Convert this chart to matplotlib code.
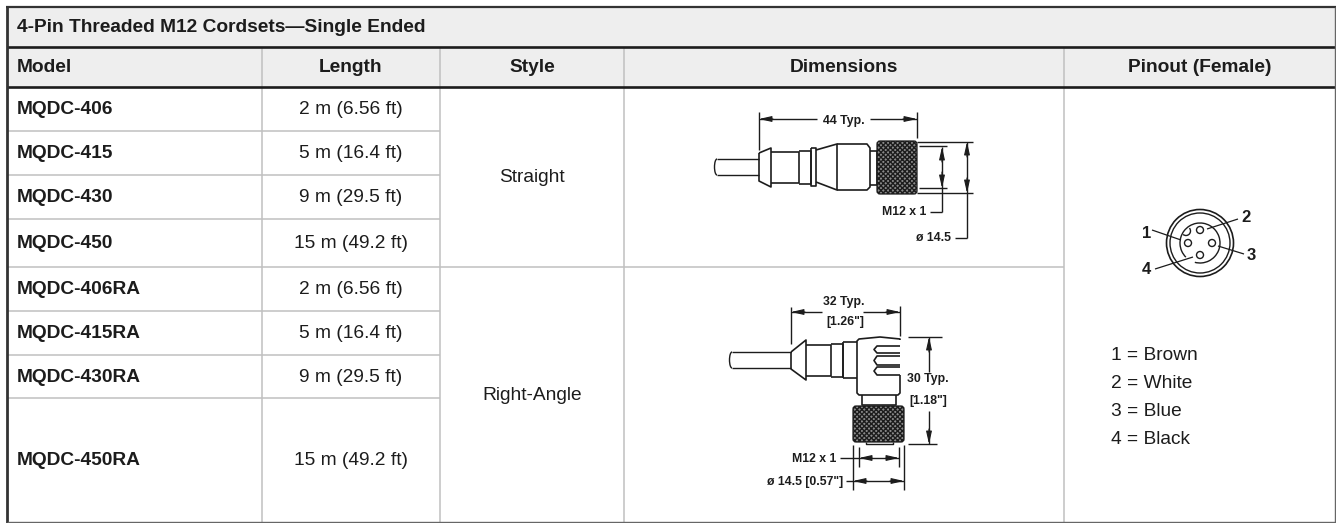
import matplotlib
matplotlib.use("Agg")
import matplotlib.pyplot as plt
from matplotlib.patches import Rectangle, Circle, Arc, FancyBboxPatch

W, H = 1336, 523

title = "4-Pin Threaded M12 Cordsets\u2014Single Ended"
headers = ["Model", "Length", "Style", "Dimensions", "Pinout (Female)"]
models = ["MQDC-406", "MQDC-415", "MQDC-430", "MQDC-450",
          "MQDC-406RA", "MQDC-415RA", "MQDC-430RA", "MQDC-450RA"]
lengths = ["2 m (6.56 ft)", "5 m (16.4 ft)", "9 m (29.5 ft)", "15 m (49.2 ft)",
           "2 m (6.56 ft)", "5 m (16.4 ft)", "9 m (29.5 ft)", "15 m (49.2 ft)"]
styles = ["Straight", "Right-Angle"]
wires = ["1 = Brown", "2 = White", "3 = Blue", "4 = Black"]

col_x = [7, 262, 440, 624, 1064, 1335]
row_y = [87, 131, 175, 219, 267, 311, 355, 398, 522]

INK = "#1c1c1c"
FS = 13.8

plt.rcParams['font.family'] = ['Liberation Sans', 'DejaVu Sans']

fig = plt.figure(figsize=(W / 100, H / 100), dpi=100)
ax = fig.add_axes([0, 0, 1, 1])
ax.set_xlim(0, W)
ax.set_ylim(H, 0)
ax.axis("off")


def line(xs, ys, lw=1.0, c=INK):
    ax.plot(xs, ys, color=c, lw=lw, solid_capstyle="butt", solid_joinstyle="round", zorder=3)


def arrow(x0, y0, x1, y1):
    # small filled dimension arrow pointing at x1, y1
    ax.annotate("", xy=(x1, y1), xytext=(x0, y0),
                arrowprops=dict(arrowstyle="-|>,head_width=0.17,head_length=0.75",
                                color=INK, lw=0.8, shrinkA=0, shrinkB=0), zorder=4)


def narrow(x, y, s, size=8.8):
    # labels of the drawings, small enough to keep the width of the condensed original
    ax.text(x, y, s, fontsize=size, fontweight="bold", ha="center", va="center",
            color=INK, zorder=5)


def knurl(x, y, w, h):
    ax.add_patch(FancyBboxPatch((x + 2, y + 2), w - 4, h - 4, boxstyle="round,pad=2,rounding_size=3",
                                fc="#8a8a8a", ec=INK, lw=0.9, hatch="xxxxxxx", zorder=3))


# header bands
ax.add_patch(Rectangle((7, 7), 1328, 80, fc="#eeeeee", ec="none", zorder=1))

# grid lines
grey = "#c0c0c0"
for y in row_y[1:4] + row_y[5:8]:
    line([col_x[0], col_x[2]], [y, y], 1.1, grey)
line([col_x[0], col_x[4]], [row_y[4], row_y[4]], 1.1, grey)
for x in col_x[1:5]:
    line([x, x], [47, 522], 1.1, grey)
line([7, 1335], [47, 47], 1.9, INK)
line([7, 1335], [87, 87], 1.9, INK)
line([7, 7], [6, 523], 2.0, "#333333")
line([6, 1336], [7, 7], 1.6, "#333333")
line([1335, 1335], [7, 522], 1.0, "#666666")
line([7, 1336], [522, 522], 1.0, "#666666")

# texts
ax.text(17, 27.5, title, fontsize=FS, fontweight="bold", va="center", color=INK)
ax.text(17, 67.5, headers[0], fontsize=FS, fontweight="bold", va="center", color=INK)
for i in range(1, 5):
    ax.text((col_x[i] + col_x[i + 1]) / 2, 67.5, headers[i], fontsize=FS,
            fontweight="bold", ha="center", va="center", color=INK)
for i in range(8):
    yc = (row_y[i] + row_y[i + 1]) / 2 + 0.5
    ax.text(17, yc, models[i], fontsize=FS, fontweight="bold", va="center", color=INK)
    ax.text((col_x[1] + col_x[2]) / 2, yc, lengths[i], fontsize=FS, ha="center",
            va="center", color=INK)
ax.text(532, 178, styles[0], fontsize=FS, ha="center", va="center", color=INK)
ax.text(532, 395, styles[1], fontsize=FS, ha="center", va="center", color=INK)
for s, y in zip(wires, [355, 384, 412, 440]):
    ax.text(1111, y, s, fontsize=FS, va="center", color=INK)

# straight cordset drawing
line([717, 759], [159, 159])
line([717, 759], [175, 175])
ax.add_patch(Arc((717, 167), 5, 16, theta1=90, theta2=270, color=INK, lw=1.0))
line([759, 771, 771, 759, 759], [153, 148, 187, 181, 153], 1.2)
line([771, 799, 799, 771], [152, 152, 183, 183], 1.2)
line([799, 811, 811, 799], [151, 151, 184, 184], 1.2)
line([811, 816, 816, 811, 811], [148, 148, 186, 186, 148], 1.2)
line([816, 837, 837, 816], [150, 144, 190, 182], 1.2)
line([837, 867, 870, 870, 867, 837], [144, 144, 148, 187, 190, 190], 1.2)
line([870, 877, 877, 870], [151, 151, 185, 185], 1.2)
knurl(877, 141, 40, 53)
line([759, 759], [112, 150])
line([917, 917], [112, 138])
line([759, 817], [119, 119])
line([870, 917], [119, 119])
arrow(773, 119, 759, 119)
arrow(903, 119, 917, 119)
narrow(844, 121, "44 Typ.")
line([917, 973], [142, 142])
line([917, 973], [193, 193])
line([919, 947], [146, 146])
line([919, 947], [188, 188])
line([942, 942], [147, 212])
line([967, 967], [142, 238])
arrow(942, 162, 942, 147)
arrow(942, 172, 942, 188)
arrow(967, 157, 967, 142)
arrow(967, 178, 967, 193)
line([930, 942], [212, 212])
line([955, 967], [238, 238])
narrow(904, 212, "M12 x 1")
narrow(933, 238, "\u00f8 14.5")

# right-angle cordset drawing
line([732, 791], [352, 352])
line([732, 791], [368, 368])
ax.add_patch(Arc((732, 360), 5, 16, theta1=90, theta2=270, color=INK, lw=1.0))
line([791, 806, 806, 791, 791], [352, 340, 380, 369, 352], 1.2)
line([806, 831, 831, 806], [345, 345, 376, 376], 1.2)
line([831, 843, 843, 831], [344, 344, 377, 377], 1.2)
line([843, 857], [342, 342], 1.2)
line([843, 857], [378, 378], 1.2)
line([843, 843], [342, 378], 1.2)
line([900, 900, 880, 859, 857, 857, 859, 898, 900, 900],
     [340, 339, 337, 339, 341, 393, 395, 395, 393, 375], 1.2)
for y0, y1 in [(346, 353), (356, 365), (367, 375)]:
    line([900, 877, 874, 877, 900], [y0, y0, (y0 + y1) / 2, y1, y1], 1.2)
line([862, 862, 896, 896], [395, 405, 405, 395], 1.2)
line([866, 866, 893, 893], [442, 444, 444, 442], 1.0)
knurl(853, 406, 51, 36)
line([791, 791], [307, 344])
line([900, 900], [306, 336])
line([791, 822], [312, 312])
line([863, 900], [312, 312])
arrow(805, 312, 791, 312)
arrow(886, 312, 900, 312)
narrow(844, 302, "32 Typ.")
narrow(845, 322, "[1.26\"]")
line([908, 942], [337, 337])
line([908, 937], [444, 444])
line([929, 929], [337, 372])
line([929, 929], [411, 444])
arrow(929, 352, 929, 337)
arrow(929, 429, 929, 444)
narrow(928, 379, "30 Typ.")
narrow(928, 401, "[1.18\"]")
line([853, 853], [445, 490])
line([904, 904], [445, 490])
line([859, 859], [447, 467])
line([899, 899], [447, 467])
line([840, 899], [458, 458])
line([846, 904], [481, 481])
arrow(872, 458, 859, 458)
arrow(886, 458, 899, 458)
arrow(867, 481, 853, 481)
arrow(890, 481, 904, 481)
narrow(814, 459, "M12 x 1")
narrow(805, 482, "\u00f8 14.5 [0.57\"]")

# pinout
cx, cy = 1200, 243
ax.add_patch(Circle((cx, cy), 33.5, fc="none", ec=INK, lw=1.2, zorder=3))
ax.add_patch(Circle((cx, cy), 30, fc="none", ec=INK, lw=1.0, zorder=3))
ax.add_patch(Arc((cx, cy), 40, 40, theta1=-225, theta2=105, color=INK, lw=1.0, zorder=3))
ax.add_patch(Arc((1186, 231), 9, 9, theta1=-40, theta2=130, color=INK, lw=1.0, zorder=3))
for dx, dy in [(0, -13), (-12, 0), (12, 0), (0, 12)]:
    ax.add_patch(Circle((cx + dx, cy + dy), 3.5, fc="white", ec=INK, lw=1.0, zorder=4))
for s, x, y in [("1", 1147, 233), ("4", 1146, 269), ("2", 1246, 218), ("3", 1251, 256)]:
    narrow(x, y, s, 12)
line([1152, 1181], [230, 240], 0.9)
line([1155, 1193], [269, 257], 0.9)
line([1207, 1238], [229, 219], 0.9)
line([1218, 1244], [246, 254], 0.9)

fig.savefig("out.png", dpi=100)
